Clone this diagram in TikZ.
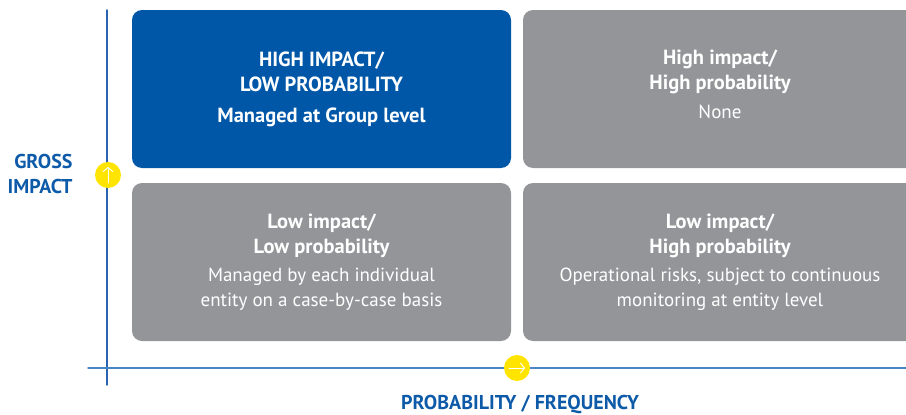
\documentclass[tikz,border=0pt]{standalone}
\usepackage{fontspec}
\setmainfont{PT Sans}
\usepackage{tikz}
\usetikzlibrary{positioning}
\usetikzlibrary{calc}
\usetikzlibrary{arrows.meta}
\definecolor{BoxBlue}{RGB}{0,87,168}
\definecolor{BoxGray}{RGB}{147,149,152}
\definecolor{LabelBlue}{RGB}{12,90,168}
\definecolor{AxisBlue}{RGB}{40,100,175}
\definecolor{AxisLight}{RGB}{70,135,195}
\definecolor{DotYellow}{RGB}{255,228,0}
\newcommand{\hd}{\fontsize{20.5}{25}\selectfont\bfseries}

\begin{document}
\begin{tikzpicture}[line cap=round,line join=round,x=1pt,y=-1pt,
  quad/.style={rounded corners=10pt,minimum height=158pt,text=white,align=center,inner sep=0pt,font=\fontsize{19}{25}\selectfont},
  axislabel/.style={text=LabelBlue,font=\fontsize{20}{25}\selectfont\bfseries},
  dot/.style={circle,fill=DotYellow,minimum size=26pt,inner sep=0pt},
  marker/.style={white,line width=0.9pt,-{Straight Barb[length=4pt,width=10pt]}}]
\useasboundingbox (0,0) rectangle (906,415);
\clip (0,0) rectangle (906,415);

%% axes
\coordinate (vtop) at (107,10);
\coordinate (vbot) at (107,385);
\coordinate (hleft) at (88,368);
\coordinate (hright) at (906,368);
\draw [line width=1.4pt,color=AxisBlue] (vtop) -- (vbot);
\draw [line width=1.4pt,color=AxisLight] (hleft) -- (hright);

%% the four boxes
\node[quad,fill=BoxBlue,minimum width=379pt] (hilo) at (321.5,89)
  {\hd HIGH IMPACT/\\\hd LOW PROBABILITY\\[6pt]\hd Managed at Group level};
\node[quad,fill=BoxGray,minimum width=394pt] (hihi) at (720,89)
  {\hd High impact/\\\hd High probability\\[4pt]None\\[-15pt]\mbox{}};
\node[quad,fill=BoxGray,minimum width=379pt] (lolo) at (321.5,262)
  {\hd Low impact/\\\hd Low probability\\[3pt]Managed by each individual\\entity on a case-by-case basis};
\node[quad,fill=BoxGray,minimum width=394pt] (lohi) at (720,262)
  {\hd Low impact/\\\hd High probability\\[3pt]Operational risks, subject to continuous\\monitoring at entity level};

%% yellow markers
\node[dot] (up) at (108,175) {};
\draw [marker] ($(up)+(0,8)$) -- ($(up)+(0,-8)$);
\node[dot] (right) at (517,368) {};
\draw [marker] ($(right)+(-8,0)$) -- ($(right)+(8,0)$);

%% axis labels
\node[axislabel,align=right,anchor=east] (gross) at (76,174) {GROSS\\IMPACT};
\node[axislabel] (prob) at (520,405) {PROBABILITY / FREQUENCY};
\end{tikzpicture}
\end{document}
